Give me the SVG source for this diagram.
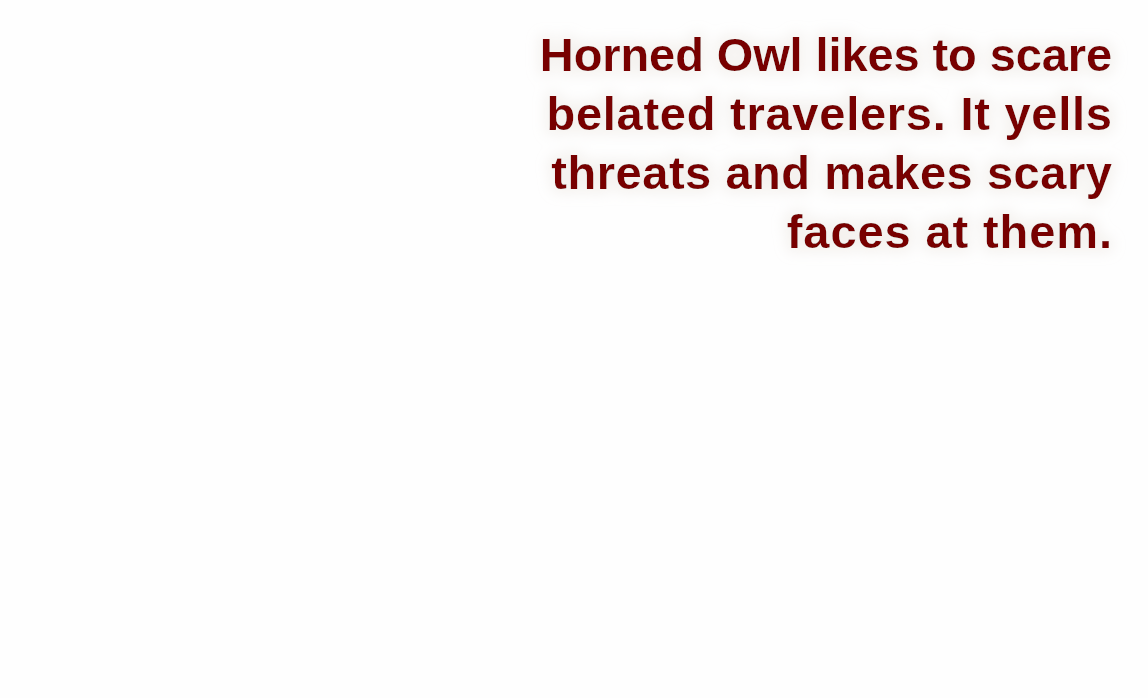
<svg xmlns="http://www.w3.org/2000/svg" width="1148" height="698" viewBox="0 0 1148 698">
<defs>
<filter id="glow" x="-5%" y="-10%" width="110%" height="120%">
<feMorphology in="SourceAlpha" operator="dilate" radius="4" result="d"/>
<feGaussianBlur in="d" stdDeviation="7" result="b"/>
<feFlood flood-color="#e6dfd8" flood-opacity="0.4"/>
<feComposite in2="b" operator="in" result="h"/>
<feMerge><feMergeNode in="h"/><feMergeNode in="SourceGraphic"/></feMerge>
</filter>
<style>
.t{font-family:"Liberation Sans",Arial,sans-serif;font-weight:bold;font-size:47px;text-anchor:end;fill:#780000}
</style>
</defs>
<rect width="1148" height="698" fill="#fefefe"/>
<g id="caption" filter="url(#glow)">
<text class="t" x="1112" y="71" letter-spacing="-0.1">Horned Owl likes to scare</text>
<text class="t" x="1112.7" y="130" letter-spacing="0.75">belated travelers. It yells</text>
<text class="t" x="1112.5" y="189" letter-spacing="0.55">threats and makes scary</text>
<text class="t" x="1112.9" y="248" letter-spacing="0.9">faces at them.</text>
</g>
</svg>
